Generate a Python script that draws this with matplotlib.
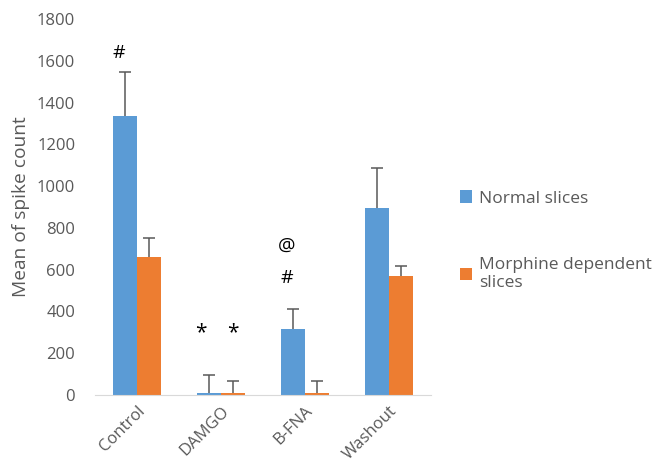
import numpy as np
import matplotlib.pyplot as plt

plt.rcParams['font.family'] = ['Open Sans', 'DejaVu Sans']

categories = ['Control', 'DAMGO', 'B-FNA', 'Washout']
normal = [1335, 8, 316, 895]
normal_err = [211, 88, 96, 192]
morphine = [660, 8, 8, 570]
morphine_err = [91, 60, 60, 47]

blue = '#5b9bd5'
orange = '#ed7d31'
gray = '#595959'

fig = plt.figure(figsize=(6.53, 4.68), dpi=100)
ax = fig.add_axes([0.145, 0.156, 0.515, 0.803])

x = np.arange(len(categories))
w = 0.286
ekw = dict(ecolor=gray, elinewidth=1.1, capsize=4, capthick=1.1)
b1 = ax.bar(x - w/2, normal, w, color=blue, label='Normal slices',
            yerr=[np.zeros(4), normal_err], error_kw=ekw)
b2 = ax.bar(x + w/2, morphine, w, color=orange, label='Morphine dependent\nslices',
            yerr=[np.zeros(4), morphine_err], error_kw=ekw)
# only plus-side error bars: hide lower caps
for b in (b1, b2):
    b.errorbar.lines[1][0].set_visible(False)

# significance marks
ax.text(x[0] - w/2 - 0.07, 1640, '#', ha='center', va='center', fontsize=14)
ax.text(x[1] - w/2 - 0.1, 297, '*', ha='center', va='center', fontsize=15)
ax.text(x[1] + w/2 - 0.0, 297, '*', ha='center', va='center', fontsize=15)
ax.text(x[2] - w/2 - 0.07, 713, '@', ha='center', va='center', fontsize=14)
ax.text(x[2] - w/2 - 0.07, 560, '#', ha='center', va='center', fontsize=14)

ax.set_xlim(-0.5, 3.5)
ax.set_ylim(0, 1800)
ax.set_yticks(range(0, 1801, 200))
ax.set_xticks(x)
ax.set_xticklabels(categories, rotation=45, ha='right', rotation_mode='anchor')
ax.tick_params(axis='both', length=0, labelsize=12, labelcolor=gray, pad=6)
ax.tick_params(axis='y', pad=14)
for s in ['top', 'right', 'left']:
    ax.spines[s].set_visible(False)
ax.spines['bottom'].set_color('#d9d9d9')
ax.set_ylabel('Mean of spike count', fontsize=13.8, color=gray, labelpad=5)

ax.legend(loc='center left', bbox_to_anchor=(1.04, 0.41), frameon=False, fontsize=12.5,
          labelcolor=gray, handlelength=0.7, handleheight=0.7, handletextpad=0.4, labelspacing=2.9)

fig.savefig('out.png', dpi=100)
